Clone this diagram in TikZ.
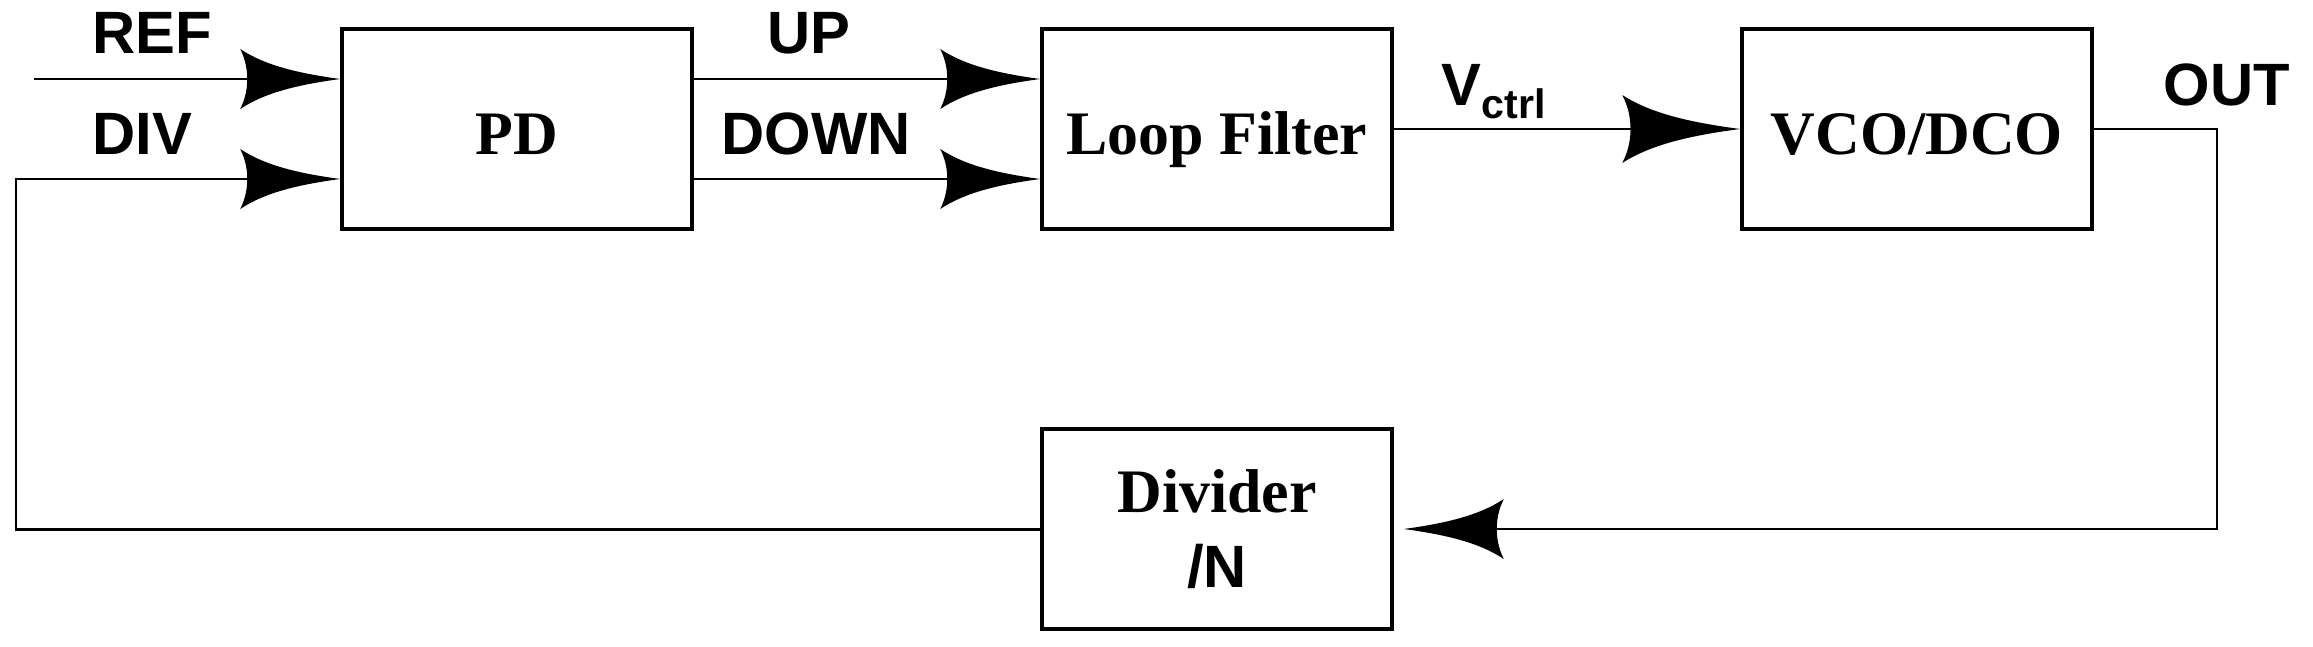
\documentclass[tikz,border=0pt]{standalone}
\usepackage{fontspec}
\setmainfont{Liberation Serif}
\setsansfont{Liberation Sans}
\usepackage{tikz}
\usetikzlibrary{arrows.meta, positioning, calc}

% swept arrow head with curved flanks
\pgfdeclarearrow{
  name = Flare,
  parameters = {\the\pgfarrowlength,\the\pgfarrowwidth},
  setup code = {
    \pgfarrowssettipend{0pt}
    \pgfarrowssetlineend{-0.5\pgfarrowlength}
    \pgfarrowssetbackend{-\pgfarrowlength}
    \pgfarrowssavethe\pgfarrowlength
    \pgfarrowssavethe\pgfarrowwidth
  },
  drawing code = {
    \pgfpathmoveto{\pgfqpoint{0pt}{0pt}}
    \pgfpathcurveto{\pgfqpoint{-0.4\pgfarrowlength}{0.09\pgfarrowwidth}}
      {\pgfqpoint{-0.75\pgfarrowlength}{0.22\pgfarrowwidth}}
      {\pgfqpoint{-\pgfarrowlength}{0.5\pgfarrowwidth}}
    \pgfpathcurveto{\pgfqpoint{-0.94\pgfarrowlength}{0.3\pgfarrowwidth}}
      {\pgfqpoint{-0.93\pgfarrowlength}{0.12\pgfarrowwidth}}
      {\pgfqpoint{-0.93\pgfarrowlength}{0pt}}
    \pgfpathcurveto{\pgfqpoint{-0.93\pgfarrowlength}{-0.12\pgfarrowwidth}}
      {\pgfqpoint{-0.94\pgfarrowlength}{-0.3\pgfarrowwidth}}
      {\pgfqpoint{-\pgfarrowlength}{-0.5\pgfarrowwidth}}
    \pgfpathcurveto{\pgfqpoint{-0.75\pgfarrowlength}{-0.22\pgfarrowwidth}}
      {\pgfqpoint{-0.4\pgfarrowlength}{-0.09\pgfarrowwidth}}
      {\pgfqpoint{0pt}{0pt}}
    \pgfpathclose
    \pgfusepathqfill
  },
  defaults = {length=1cm, width=0.6cm}
}

\begin{document}
\begin{tikzpicture}[
    block/.style={draw, line width=1pt, minimum width=3.5cm, minimum height=2cm, inner sep=0pt,
        font=\bfseries\fontsize{17.6}{21.3}\selectfont},
    stage/.style={block, text height=0.5cm, text depth=0pt},
    sig/.style={draw, line width=0.85pt, -{Flare}},
    thinsig/.style={draw, line width=0.55pt, -{Flare}},
    pin/.style={font=\sffamily\bfseries\fontsize{17}{20}\selectfont, anchor=base west, inner sep=0pt},
]
    \useasboundingbox (0,0) rectangle (23.13,6.46);

    % Forward path
    \node[stage] (pd) at (5.17,5.17) {PD};
    \node[stage] (lf) at (12.17,5.17) {Loop Filter};
    \node[stage] (vco) at (19.17,5.17) {VCO/DCO};

    % Feedback divider
    \node[block, align=center] (divn) at (12.17,1.17) {Divider\\{\sffamily\fontsize{17}{21.3}\selectfont /N}};

    % Signal labels
    \node[pin] (reflbl) at (0.92,5.93) {REF};
    \node[pin] (divlbl) at (0.92,4.92) {DIV};
    \node[pin] (uplbl) at (7.67,5.92) {UP};
    \node[pin] (downlbl) at (7.21,4.92) {DOWN};
    \node[pin] (vctrllbl) at (14.41,5.41) {V\raisebox{-0.13cm}{\fontsize{11.7}{13}\selectfont ctrl}};
    \node[pin] (outlbl) at (21.63,5.41) {OUT};

    % Connectors
    \coordinate (refin) at (0.34,5.67);
    \coordinate (fbr) at (22.17,1.17);
    \coordinate (fbl) at (0.16,4.67);
    \draw[sig] (refin) -- (refin -| pd.west);
    \draw[sig] ([yshift=5mm]pd.east) -- ([yshift=5mm]lf.west);
    \draw[sig] ([yshift=-5mm]pd.east) -- ([yshift=-5mm]lf.west);
    \draw[thinsig, -{Flare[length=1.18cm, width=0.68cm]}] (lf) -- (vco);
    \draw[thinsig, shorten >=0.1cm] (vco.east) -| (fbr) -- (divn.east);
    \draw[sig] (divn.west) -| (fbl) -- (fbl -| pd.west);
\end{tikzpicture}
\end{document}
